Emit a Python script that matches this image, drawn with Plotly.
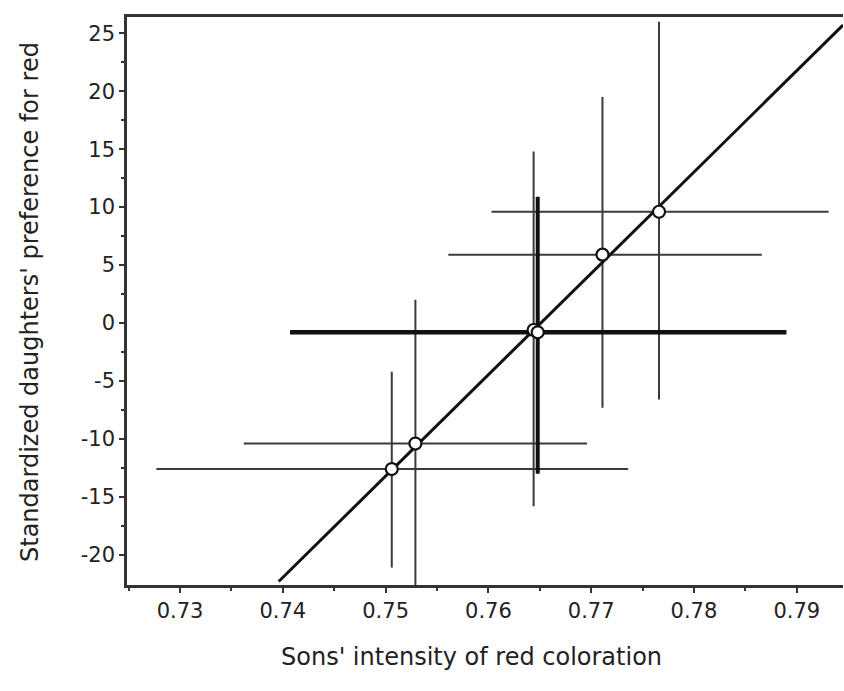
import plotly.graph_objects as go

# Thin-bar families (x, y, error extents)
thin_x = [0.7506, 0.7529, 0.7644, 0.7711, 0.7766]
thin_y = [-12.6, -10.4, -0.6, 5.9, 9.6]
thin_x_plus = [0.0230, 0.0167, 0.0, 0.0155, 0.0165]
thin_x_minus = [0.0229, 0.0167, 0.0, 0.0150, 0.0163]
thin_y_plus = [8.4, 12.4, 15.4, 13.6, 16.4]
thin_y_minus = [8.5, 13.0, 15.2, 13.2, 16.2]

# Thick-bar family (pooled mean)
thick_x = [0.7648]
thick_y = [-0.8]
thick_x_plus = [0.0242]
thick_x_minus = [0.0241]
thick_y_plus = [11.7]
thick_y_minus = [12.2]

# Regression line end points
reg_x = [0.7396, 0.7945]
reg_y = [-22.3, 25.7]

x_ticks = [0.73, 0.74, 0.75, 0.76, 0.77, 0.78, 0.79]
x_labels = ["0.73", "0.74", "0.75", "0.76", "0.77", "0.78", "0.79"]
y_ticks = [25, 20, 15, 10, 5, 0, -5, -10, -15, -20]
y_labels = ["25", "20", "15", "10", "5", "0", "-5", "-10", "-15", "-20"]

FONT = "DejaVu Sans"
INK = "#222222"

W, H = 844, 691
L, T = 127, 17
R = W - 843
B = H - 585
PW = W - L - R
PH = H - T - B


def px_x(p):
    return (p - L) / PW


def px_y(p):
    return 1 - (p - T) / PH


fig = go.Figure()

fig.add_trace(go.Scatter(
    x=thin_x, y=thin_y, mode="markers",
    marker=dict(size=0.1, color="rgba(0,0,0,0)"),
    error_x=dict(type="data", symmetric=False, array=thin_x_plus, arrayminus=thin_x_minus,
                 color="#3a3a3a", thickness=2, width=0),
    error_y=dict(type="data", symmetric=False, array=thin_y_plus, arrayminus=thin_y_minus,
                 color="#3a3a3a", thickness=2, width=0),
    showlegend=False, hoverinfo="skip"))

fig.add_trace(go.Scatter(
    x=thick_x, y=thick_y, mode="markers",
    marker=dict(size=0.1, color="rgba(0,0,0,0)"),
    error_x=dict(type="data", symmetric=False, array=thick_x_plus, arrayminus=thick_x_minus,
                 color="#111111", thickness=4.5, width=0),
    error_y=dict(type="data", symmetric=False, array=thick_y_plus, arrayminus=thick_y_minus,
                 color="#111111", thickness=4, width=0),
    showlegend=False, hoverinfo="skip"))

fig.add_trace(go.Scatter(
    x=reg_x, y=reg_y, mode="lines",
    line=dict(color="#111111", width=3),
    showlegend=False, hoverinfo="skip"))

fig.add_trace(go.Scatter(
    x=thin_x + thick_x, y=thin_y + thick_y, mode="markers",
    marker=dict(size=12, color="white", line=dict(color="#111111", width=2.2)),
    showlegend=False))

fig.update_layout(
    width=W, height=H,
    margin=dict(l=L, r=R, t=T, b=B, autoexpand=False),
    paper_bgcolor="white", plot_bgcolor="white",
    font=dict(family=FONT, color=INK, size=21),
    xaxis=dict(
        range=[0.72484, 0.7945], automargin=False,
        tickvals=x_ticks, ticktext=x_labels,
        ticks="outside", ticklen=5, tickwidth=2, tickcolor="#333333",
        minor=dict(tickvals=[0.725, 0.735, 0.745, 0.755, 0.765, 0.775, 0.785],
                   ticks="outside", ticklen=3, tickwidth=1.5, tickcolor="#333333"),
        showline=True, linecolor="#333333", linewidth=2.5, mirror=True,
        showgrid=False, zeroline=False,
        tickfont=dict(size=21, family=FONT, color=INK),
    ),
    yaxis=dict(
        range=[-22.6, 26.4], automargin=False,
        tickvals=y_ticks, ticktext=y_labels,
        ticks="outside", ticklen=5, tickwidth=2, tickcolor="#333333",
        minor=dict(tickvals=[22.5, 17.5, 12.5, 7.5, 2.5, -2.5, -7.5, -12.5, -17.5],
                   ticks="outside", ticklen=3, tickwidth=1.5, tickcolor="#333333"),
        showline=True, linecolor="#333333", linewidth=2.5, mirror=False,
        showgrid=False, zeroline=False,
        tickfont=dict(size=21, family=FONT, color=INK),
    ),
    annotations=[
        dict(text="Sons' intensity of red coloration", xref="paper", yref="paper",
             x=px_x(471), y=px_y(657), showarrow=False,
             xanchor="center", yanchor="middle",
             font=dict(size=24, family=FONT, color=INK)),
        dict(text="Standardized daughters' preference for red", xref="paper", yref="paper",
             x=px_x(30), y=px_y(302), showarrow=False, textangle=-90,
             xanchor="center", yanchor="middle",
             font=dict(size=24, family=FONT, color=INK)),
    ],
)

fig.write_html(
    "out.html",
    config={"displayModeBar": False},
    post_script="document.body.style.margin='0';document.documentElement.style.overflow='hidden';",
)
